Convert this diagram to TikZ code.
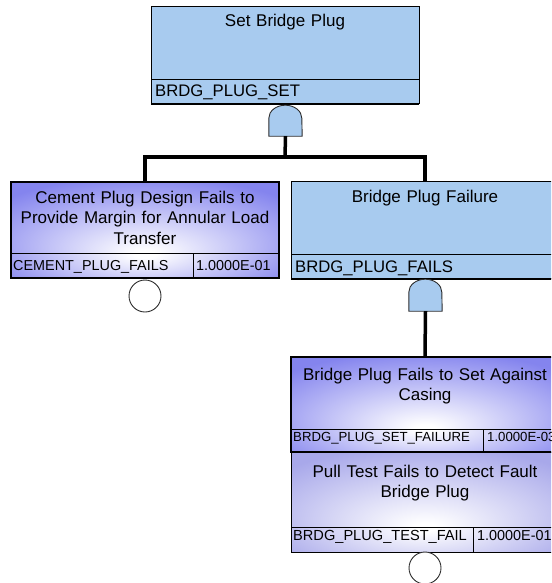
\documentclass[tikz,border=0pt]{standalone}
\usepackage{fontspec}
\setmainfont{Liberation Sans}
\usetikzlibrary{calc}
\definecolor{gatefill}{RGB}{168,203,239}
\definecolor{evblue}{RGB}{132,132,238}
\definecolor{evlav}{RGB}{168,168,234}
\definecolor{gateline}{RGB}{45,45,45}
\pgfdeclareradialshading{evshade}{\pgfpoint{0bp}{-13bp}}{color(0bp)=(white); color(2bp)=(white); color(34bp)=(evblue); color(60bp)=(evblue)}
\pgfdeclareradialshading{evshadetwo}{\pgfpoint{0bp}{-13bp}}{color(0bp)=(white); color(2bp)=(white); color(34bp)=(evlav); color(60bp)=(evlav)}
\begin{document}
\begin{tikzpicture}[x=1pt,y=-1pt,
  gatebox/.style={draw=black, line width=1pt, fill=gatefill, inner sep=0pt, minimum width=268pt},
  evbox/.style={draw=black, line width=2pt, shading=evshade, inner sep=0pt, minimum width=268pt},
  evboxthin/.style={evbox, line width=1pt, shading=evshadetwo},
  title/.style={font=\fontsize{17}{20.5}\selectfont, text width=266pt, align=center, inner sep=0pt, anchor=base},
  bigid/.style={font=\fontsize{16.7}{18}\selectfont, inner sep=0pt, anchor=base west},
  smallid/.style={font=\fontsize{14.4}{16}\selectfont, inner sep=0pt, anchor=base west},
  gatenode/.style={inner sep=0pt, minimum width=33pt, draw=none},
  gateshape/.style={draw=gateline, line width=0.9pt, fill=gatefill},
  conn/.style={line width=3.5pt, black},
  divider/.style={line width=1pt, black},
  circ/.style={circle, draw=gateline, line width=0.9pt, fill=white, minimum size=32pt, inner sep=0pt}
]
\useasboundingbox (0,0) rectangle (551,583);
\clip (0,0) rectangle (551,583);

% ---- top gate box
\node[gatebox, minimum height=97pt] (top) at (285,55.5) {};
\draw[divider] (151,80) -- (419,80);
\draw[line width=2pt] (151,104) -- (419,104);
\node[title] (ttop) at (285,27) {Set Bridge Plug};
\node[bigid] (itop) at (155,97) {BRDG\_PLUG\_SET};

% ---- gate 1
\node[gatenode, minimum height=31pt] (g1) at (285.5,120.5) {};
\draw[gateshape] (g1.south west) -- ($(g1.south west)+(0,-18)$)
  arc[start angle=180, end angle=0, x radius=16.5pt, y radius=13pt]
  -- (g1.south east) -- cycle;

% ---- left basic event box
\node[evbox, minimum height=96pt] (left) at (145,230) {};
\draw[divider] (11,253) -- (279,253);
\draw[divider] (193,253) -- (193,278);
\node[title] (tleft) at (145,203) {Cement Plug Design Fails to\\Provide Margin for Annular Load\\Transfer};
\node[smallid] (ileft) at (13,270) {CEMENT\_PLUG\_FAILS};
\node[smallid] (vleft) at (196,270) {1.0000E-01};
\node[circ] (c1) at (145,296) {};

% ---- right gate box
\node[gatebox, minimum height=97pt] (right) at (425,230) {};
\draw[divider] (291,254) -- (559,254);
\draw[line width=2pt] (291,278.5) -- (559,278.5);
\node[title] (tright) at (425,202) {Bridge Plug Failure};
\node[bigid] (iright) at (295,272) {BRDG\_PLUG\_FAILS};

% ---- gate 2
\node[gatenode, minimum height=32pt] (g2) at (425.5,295) {};
\draw[gateshape] (g2.south west) -- ($(g2.south west)+(0,-19)$)
  arc[start angle=180, end angle=0, x radius=16.5pt, y radius=13pt]
  -- (g2.south east) -- cycle;

% ---- bottom basic events
\node[evboxthin, minimum height=100pt] (b2) at (425,502) {};
\draw[divider] (291,527) -- (559,527);
\draw[divider] (473,527) -- (473,552);
\node[title] (tb2) at (425,477) {Pull Test Fails to Detect Fault\\Bridge Plug};
\node[smallid, font=\fontsize{14.6}{16}\selectfont] (ib2) at (293,540) {BRDG\_PLUG\_TEST\_FAIL};
\node[smallid] (vb2) at (477,540) {1.0000E-01};
\node[circ] (c2) at (425,568) {};

\node[evbox, minimum height=95pt] (b1) at (425,404.5) {};
\draw[divider] (291,429) -- (559,429);
\draw[divider] (483,429) -- (483,452);
\node[title] (tb1) at (425,380) {Bridge Plug Fails to Set Against\\Casing};
\node[smallid, font=\fontsize{13.2}{15}\selectfont] (ib1) at (293,441) {BRDG\_PLUG\_SET\_FAILURE};
\node[smallid, font=\fontsize{13.2}{15}\selectfont] (vb1) at (487,441) {1.0000E-03};

% ---- connectors
\coordinate (j1) at (285,157);
\draw[conn] (g1.south) -- (j1);
\draw[conn] (left.north) |- (j1) -| (right.north);
\draw[conn] (g2.south) -- (b1.north);
\end{tikzpicture}
\end{document}
